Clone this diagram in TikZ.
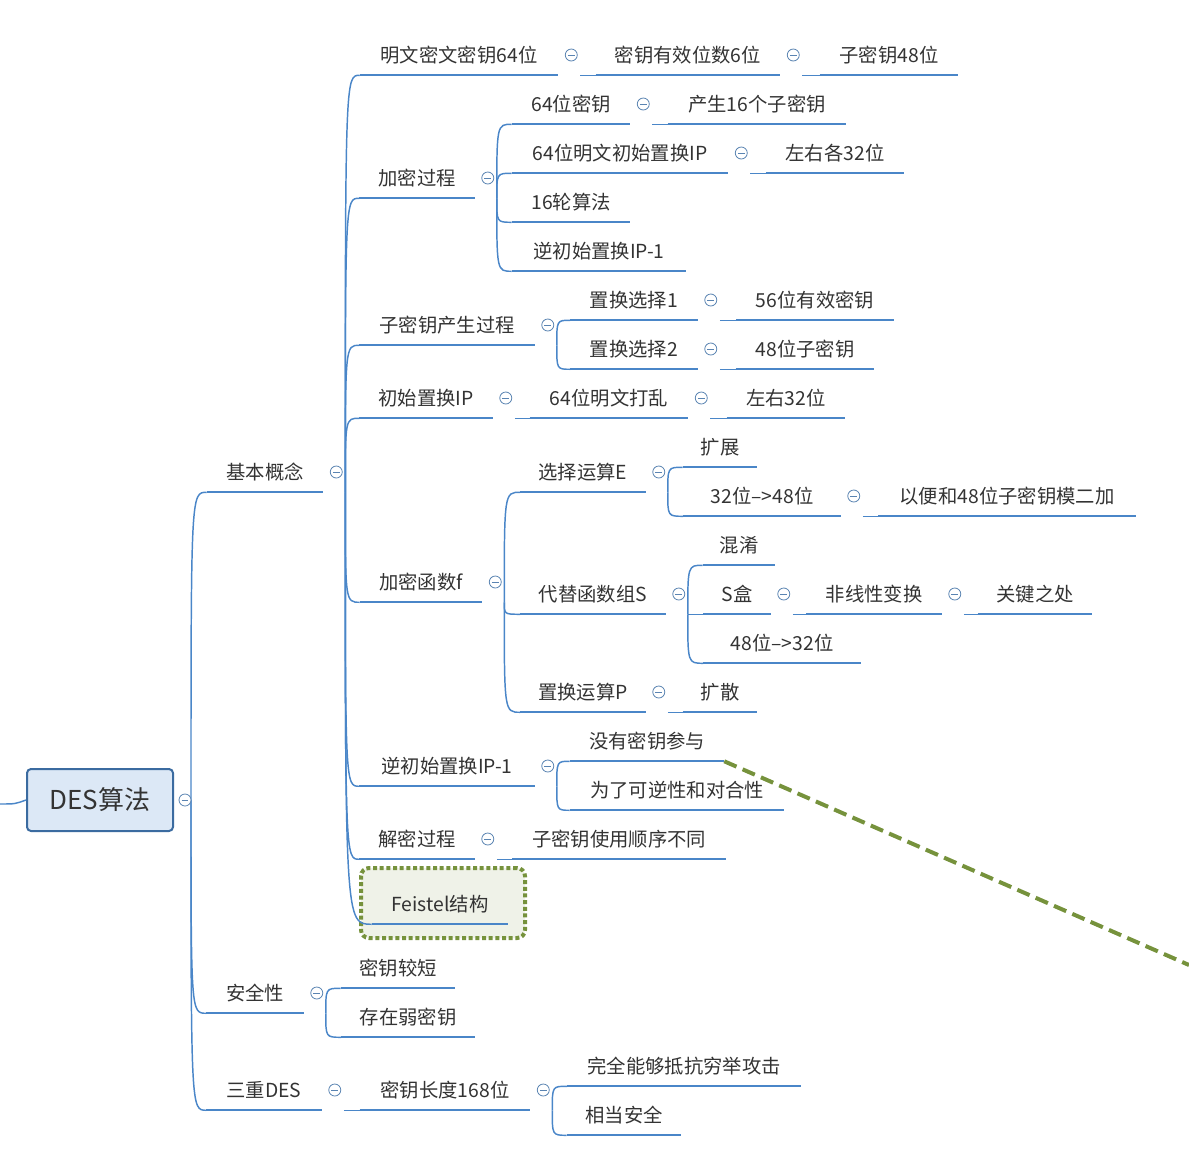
\documentclass[tikz,border=0pt]{standalone}
\usepackage{fontspec}
\setmainfont{Noto Sans CJK SC}
\usetikzlibrary{calc}
\definecolor{branch}{HTML}{4A86C8}
\definecolor{ink}{HTML}{333333}
\definecolor{rootfill}{HTML}{DCE8F6}
\definecolor{olive}{HTML}{76923C}
\begin{document}
\begin{tikzpicture}[x=0.75pt,y=-0.75pt,
    topic/.style={minimum width=#1*0.75pt, minimum height=30pt, inner sep=0pt, text=ink, font=\fontsize{14.5}{16}\selectfont},
    ul/.style={branch, line width=1.6pt},
    line/.style={branch, line width=1.1pt},
    fold/.style={circle, draw=branch!70!gray, fill=white, line width=0.6pt, minimum size=9pt, inner sep=0pt,
      path picture={\draw[branch!70!gray, line width=0.7pt] ([xshift=-2.5pt]path picture bounding box.center) -- ([xshift=2.5pt]path picture bounding box.center);}}]
\useasboundingbox (0,0) rectangle (1189,1175);
\newcommand{\conn}[2]{\path ($(#1.south east)+(22,0)$) coordinate (s);
  \draw[line] (s) .. controls (s |- #2.south west) .. (#2.south west);}
\newcommand{\foldat}[1]{\node[fold] at ($(#1.east)+(13,0)$) {};}

%% Root
\node[draw=branch!80!black, fill=rootfill, rounded corners=3pt, line width=1.5pt, minimum width=109.5pt, minimum height=46.5pt,
  text=ink, font=\fontsize{19.5}{22}\selectfont] (des) at (100,800) {DES算法};
\coordinate (inlet) at (0,804);
\draw[line] (inlet) .. controls (15,804) .. (des.west);

%% Level 1
\node[topic=116] (basic) at (265,472) {基本概念};
\node[topic=97] (safe) at (255,993) {安全性};
\node[topic=115] (triple) at (264,1090) {三重DES};

%% Level 2
\node[topic=198] (plain) at (459,55) {明文密文密钥64位};
\node[topic=115] (enc) at (417,178) {加密过程};
\node[topic=175] (subgen) at (447,325) {子密钥产生过程};
\node[topic=133] (ip) at (426,398) {初始置换IP};
\node[topic=122] (func) at (421,582) {加密函数f};
\node[topic=175] (invip) at (447,766) {逆初始置换IP-1};
\node[topic=115] (dec) at (417,839) {解密过程};
\node[draw=olive, dotted, line width=3pt, fill=olive!12, rounded corners=6pt, minimum width=123pt, minimum height=52.5pt] (fbox) at (443,903) {};
\node[topic=136] (feistel) at (440,904) {Feistel结构};

%% Level 3 and deeper
\node[topic=184] (eff) at (688,55) {密钥有效位数6位};
\node[topic=138] (sub48) at (889,55) {子密钥48位};
\node[topic=118] (k64) at (571,104) {64位密钥};
\node[topic=178] (gen16) at (757,104) {产生16个子密钥};
\node[topic=216] (ipt) at (620,153) {64位明文初始置换IP};
\node[topic=138] (lr32) at (835,153) {左右各32位};
\node[topic=118] (r16) at (571,202) {16轮算法};
\node[topic=174] (invipt) at (599,251) {逆初始置换IP-1};
\node[topic=127] (pc1) at (634,300) {置换选择1};
\node[topic=157] (k56) at (815,300) {56位有效密钥};
\node[topic=127] (pc2) at (634,349) {置换选择2};
\node[topic=138] (k48) at (805,349) {48位子密钥};
\node[topic=158] (shuffle) at (609,398) {64位明文打乱};
\node[topic=118] (lr) at (786,398) {左右32位};
\node[topic=125] (sele) at (583,472) {选择运算E};
\node[topic=74] (expand) at (720,447) {扩展};
\node[topic=157] (e3248) at (762,496) {32位-->48位};
\node[topic=257] (xor) at (1007,496) {以便和48位子密钥模二加};
\node[topic=145] (sbox) at (593,594) {代替函数组S};
\node[topic=72] (confuse) at (739,545) {混淆};
\node[topic=67] (sb) at (737,594) {S盒};
\node[topic=135] (nonlin) at (874,594) {非线性变换};
\node[topic=114] (key) at (1035,594) {关键之处};
\node[topic=157] (s4832) at (782,643) {48位-->32位};
\node[topic=125] (perm) at (583,692) {置换运算P};
\node[topic=74] (diffuse) at (720,692) {扩散};
\node[topic=154] (nokey) at (647,741) {没有密钥参与};
\node[topic=214] (invol) at (677,790) {为了可逆性和对合性};
\node[topic=213] (order) at (619,839) {子密钥使用顺序不同};
\node[topic=114] (short) at (398,968) {密钥较短};
\node[topic=133] (weak) at (408,1017) {存在弱密钥};
\node[topic=170] (len168) at (445,1090) {密钥长度168位};
\node[topic=233] (brute) at (684,1066) {完全能够抵抗穷举攻击};
\node[topic=114] (secure) at (624,1115) {相当安全};

%% Underlines
\foreach \n in {basic,safe,triple,plain,enc,subgen,ip,func,invip,dec,feistel,eff,sub48,k64,gen16,ipt,lr32,r16,invipt,
  pc1,k56,pc2,k48,shuffle,lr,sele,expand,e3248,xor,sbox,confuse,sb,nonlin,key,s4832,perm,diffuse,nokey,invol,order,
  short,weak,len168,brute,secure}
  \draw[ul] (\n.south west) -- (\n.south east);

%% Connectors
\path ($(des.east)+(17,0)$) coordinate (s);
\foreach \c in {basic,safe,triple}
  \draw[line] (s) .. controls (s |- \c.south west) .. (\c.south west);
\foreach \c in {plain,enc,subgen,ip,func,invip,dec,feistel} {\conn{basic}{\c}}
\foreach \c in {k64,ipt,r16,invipt} {\conn{enc}{\c}}
\foreach \c in {pc1,pc2} {\conn{subgen}{\c}}
\foreach \c in {sele,sbox,perm} {\conn{func}{\c}}
\foreach \c in {nokey,invol} {\conn{invip}{\c}}
\foreach \c in {expand,e3248} {\conn{sele}{\c}}
\foreach \c in {confuse,sb,s4832} {\conn{sbox}{\c}}
\foreach \c in {short,weak} {\conn{safe}{\c}}
\foreach \c in {brute,secure} {\conn{len168}{\c}}
\conn{plain}{eff} \conn{eff}{sub48} \conn{k64}{gen16} \conn{ipt}{lr32}
\conn{pc1}{k56} \conn{pc2}{k48} \conn{ip}{shuffle} \conn{shuffle}{lr}
\conn{e3248}{xor} \conn{sb}{nonlin} \conn{nonlin}{key} \conn{perm}{diffuse}
\conn{dec}{order} \conn{triple}{len168}

%% Fold marks
\node[fold] at ($(des.east)+(11,0)$) {};
\foreach \n in {basic,safe,triple,plain,enc,subgen,ip,func,invip,dec,eff,k64,ipt,pc1,pc2,shuffle,sele,e3248,sbox,sb,nonlin,perm,len168}
  {\foldat{\n}}

%% Relation
\coordinate (far) at (1189,965);
\draw[olive, dashed, line width=3pt, dash pattern=on 10pt off 5pt] (nokey.south east) -- (far);
\end{tikzpicture}
\end{document}
